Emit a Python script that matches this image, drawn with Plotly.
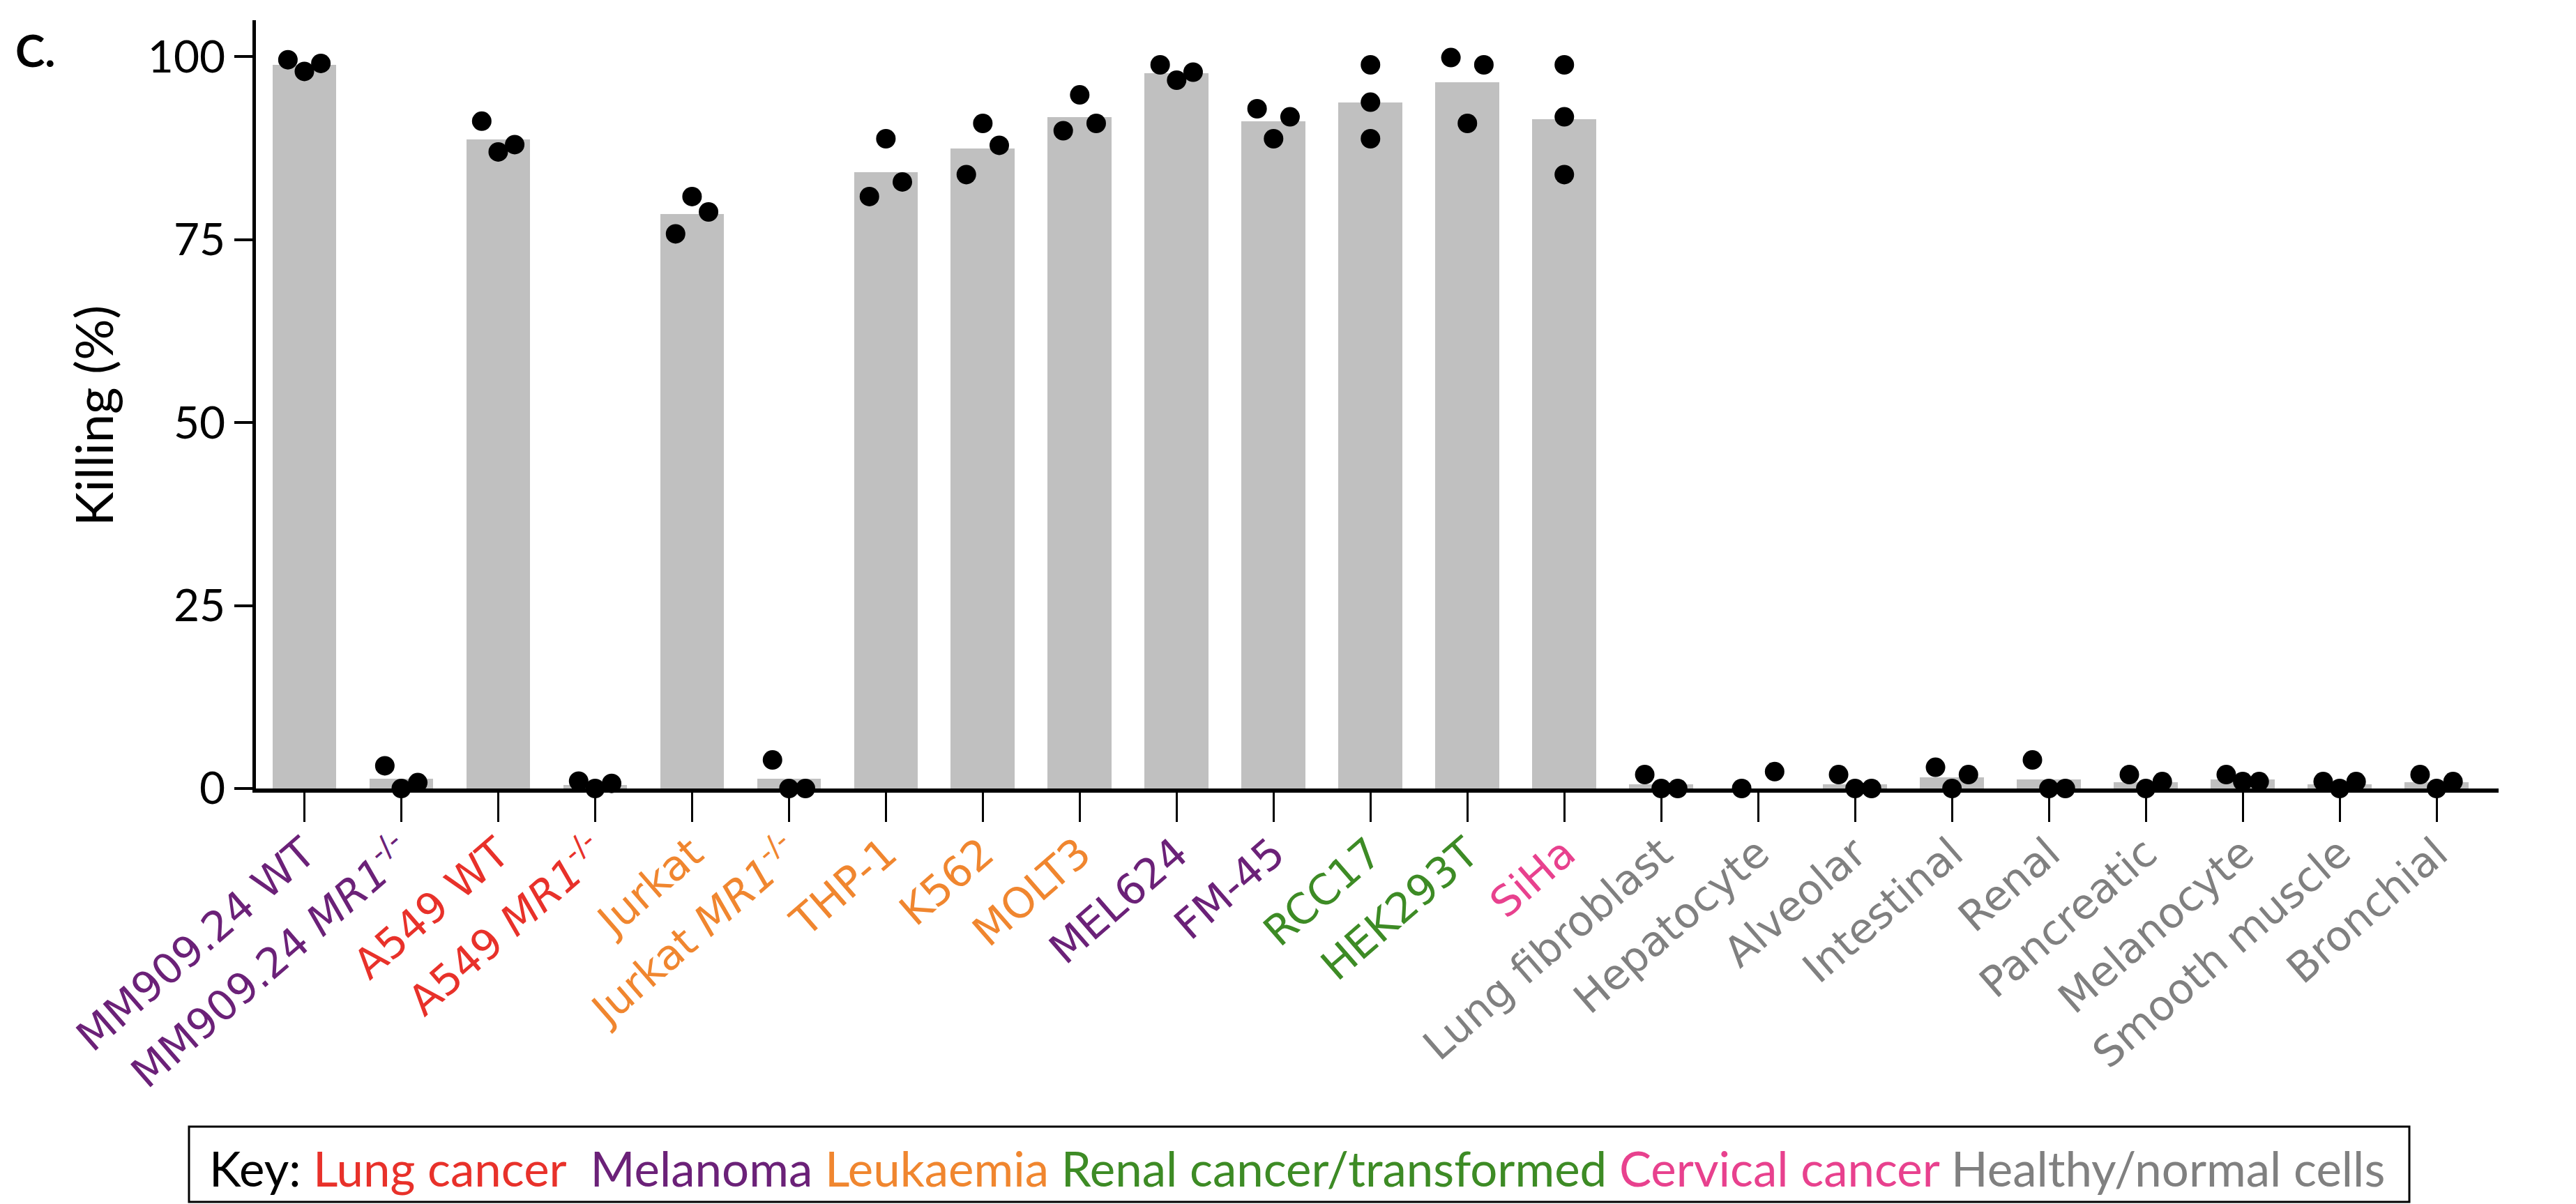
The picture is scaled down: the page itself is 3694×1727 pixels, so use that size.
import plotly.graph_objects as go

# ---------------- data ----------------
categories = ["MM909.24 WT", "MM909.24 MR1-/-", "A549 WT", "A549 MR1-/-", "Jurkat",
              "Jurkat MR1-/-", "THP-1", "K562", "MOLT3", "MEL624", "FM-45", "RCC17",
              "HEK293T", "SiHa", "Lung fibroblast", "Hepatocyte", "Alveolar", "Intestinal",
              "Renal", "Pancreatic", "Melanocyte", "Smooth muscle", "Bronchial"]

tick_labels = ["MM909.24 WT", "MM909.24 <i>MR1</i><sup>-/-</sup>", "A549 WT",
               "A549 <i>MR1</i><sup>-/-</sup>", "Jurkat", "Jurkat <i>MR1</i><sup>-/-</sup>",
               "THP-1", "K562", "MOLT3", "MEL624", "FM-45", "RCC17", "HEK293T", "SiHa",
               "Lung fibroblast", "Hepatocyte", "Alveolar", "Intestinal", "Renal",
               "Pancreatic", "Melanocyte", "Smooth muscle", "Bronchial"]

groups = ["Melanoma", "Melanoma", "Lung cancer", "Lung cancer", "Leukaemia", "Leukaemia",
          "Leukaemia", "Leukaemia", "Leukaemia", "Melanoma", "Melanoma",
          "Renal cancer/transformed", "Renal cancer/transformed", "Cervical cancer"] + \
         ["Healthy/normal cells"] * 9

bar_means = [98.9, 1.3, 88.7, 0.5, 78.5, 1.3, 84.2, 87.5, 91.8, 97.8, 91.2, 93.8, 96.5, 91.5,
             0.6, 0.0, 0.6, 1.5, 1.2, 0.9, 1.2, 0.6, 0.9]

rep_left = [99.6, 3.1, 91.2, 1.0, 75.8, 3.9, 80.9, 83.9, 89.9, 98.9, 92.9, 98.9, 99.9, 98.9,
            1.9, 0.0, 1.9, 2.9, 3.9, 1.9, 1.9, 0.95, 1.9]
rep_mid = [98.0, 0.0, 87.0, 0.0, 80.9, 0.0, 88.8, 90.9, 94.8, 96.8, 88.8, 93.8, 90.9, 91.8,
           0.0, None, 0.0, 0.0, 0.0, 0.0, 0.95, 0.0, 0.0]
rep_right = [99.1, 0.8, 88.0, 0.7, 78.8, 0.0, 82.9, 87.9, 90.9, 97.9, 91.8, 88.8, 98.9, 83.9,
             0.0, 2.3, 0.0, 1.9, 0.0, 0.95, 0.95, 0.95, 0.95]

key_order = ["Lung cancer", "Melanoma", "Leukaemia", "Renal cancer/transformed",
             "Cervical cancer", "Healthy/normal cells"]

# ---------------- style ----------------
group_colors = {
    "Lung cancer": "#E8312A",
    "Melanoma": "#6B2178",
    "Leukaemia": "#F0862F",
    "Renal cancer/transformed": "#3D8B25",
    "Cervical cancer": "#E8418E",
    "Healthy/normal cells": "#808080",
}
jitter = [-0.17, 0.0, 0.17]
no_jitter = {"RCC17", "SiHa"}
BAR_COLOR = "#C0C0C0"
AXIS_FONT = "Lato"
LABEL_FONT = "DejaVu Sans"

x_idx = list(range(len(categories)))

fig = go.Figure()
fig.add_trace(go.Bar(x=x_idx, y=bar_means, width=0.66, marker=dict(color=BAR_COLOR, line=dict(width=0)),
                     showlegend=False, hoverinfo="skip"))

px_, py_ = [], []
for i, cat in enumerate(categories):
    for k, series in enumerate([rep_left, rep_mid, rep_right]):
        v = series[i]
        if v is None:
            continue
        off = 0.0 if cat in no_jitter else jitter[k]
        px_.append(i + off)
        py_.append(v)

fig.add_trace(go.Scatter(x=px_, y=py_, mode="markers", cliponaxis=False,
                         marker=dict(size=28, color="black", line=dict(width=0)),
                         showlegend=False))

ticktext = [f"<span style='color:{group_colors[g]}'>{t}</span>" for t, g in zip(tick_labels, groups)]

fig.update_layout(
    width=3694, height=1727, autosize=False,
    margin=dict(l=367, r=111, t=29, b=596),
    plot_bgcolor="white", paper_bgcolor="white",
    bargap=0,
    xaxis=dict(range=[-0.5, 22.64], tickmode="array", tickvals=x_idx, ticktext=ticktext,
               tickangle=-41, tickfont=dict(family=LABEL_FONT, size=60),
               ticklabelstandoff=-14,
               showline=True, linecolor="black", linewidth=6,
               ticks="outside", ticklen=42, tickwidth=3, tickcolor="black",
               showgrid=False, zeroline=False),
    yaxis=dict(range=[0, 105], tickvals=[0, 25, 50, 75, 100],
               tickfont=dict(family=AXIS_FONT, size=64, color="black"),
               showline=True, linecolor="black", linewidth=5,
               ticks="outside", ticklen=26, tickwidth=4, tickcolor="black",
               showgrid=False, zeroline=False),
)

# panel label
fig.add_annotation(text="<b>C.</b>", xref="paper", yref="paper", x=-0.108, y=0.961,
                   xanchor="left", yanchor="middle", showarrow=False,
                   font=dict(family=AXIS_FONT, size=64, color="black"))
# y title
fig.add_annotation(text="Killing (%)", xref="paper", yref="paper", x=-0.0725, y=0.4855,
                   xanchor="center", yanchor="middle", textangle=-90, showarrow=False,
                   font=dict(family=AXIS_FONT, size=74, color="black"))

# key box
fig.add_shape(type="rect", xref="paper", yref="paper", x0=-0.02985, x1=0.9602, y0=-0.538, y1=-0.44,
              line=dict(color="black", width=3), fillcolor="rgba(0,0,0,0)")
key_parts = ["Key:"]
for g in key_order:
    key_parts.append(f"<span style='color:{group_colors[g]}'>{g}</span>")
key_text = key_parts[0] + " " + key_parts[1] + "  " + " ".join(key_parts[2:])
fig.add_annotation(text=key_text, xref="paper", yref="paper", x=-0.0215, y=-0.4937,
                   xanchor="left", yanchor="middle", showarrow=False,
                   font=dict(family=AXIS_FONT, size=69, color="black"))

fig.write_html("out.html", config={"displayModeBar": False},
               post_script="document.body.style.margin='0';document.body.style.overflow='hidden';")
